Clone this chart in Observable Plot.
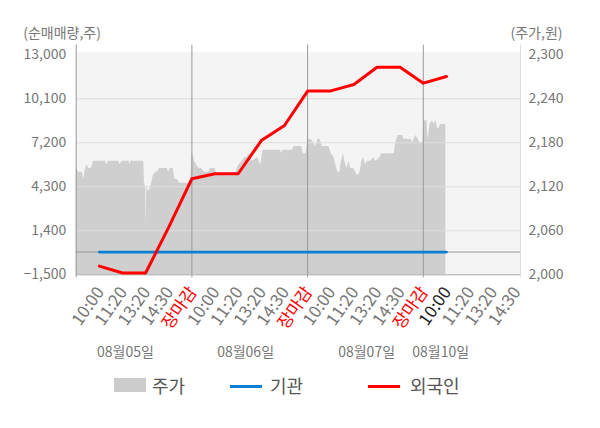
<!DOCTYPE html>
<html>
<head>
<meta charset="utf-8">
<script src="https://cdn.jsdelivr.net/npm/d3@7"></script>
<script src="https://cdn.jsdelivr.net/npm/@observablehq/plot@0.6"></script>
<style>
  body { margin: 0; background: #fff; font-family: "Noto Sans CJK KR", "Noto Sans", sans-serif; }
  #wrap { position: relative; width: 600px; height: 428px; overflow: hidden; }
  .lg { position: absolute; }
  .lgt { position: absolute; top: 373px; font-size: 18px; color: #555; line-height: 24px; }
</style>
</head>
<body>
<div id="wrap">
  <div id="chart"></div>
  <div class="lg" style="left:114px;top:378px;width:32px;height:14px;background:#cccccc"></div>
  <div class="lgt" style="left:152px">주가</div>
  <div class="lg" style="left:230px;top:385px;width:32px;height:3px;background:#0a80d2"></div>
  <div class="lgt" style="left:270px">기관</div>
  <div class="lg" style="left:368px;top:385px;width:32px;height:3px;background:#ff0000"></div>
  <div class="lgt" style="left:410px">외국인</div>
</div>
<script>
// ---- data ----
const leftTicks = [-1500, 1400, 4300, 7200, 10100, 13000];
const priceTicks = [2000, 2060, 2120, 2180, 2240, 2300];
const timeLabels = ["10:00", "11:20", "13:20", "14:30", "장마감"];
const dateLabels = ["08월05일", "08월06일", "08월07일", "08월10일"];
const dateLabelSlot = [2.13, 7.32, 12.55, 15.75];

// cumulative net buying (shares) at each time label
const foreignNet = [-930, -1380, -1380, 1640, 4830,
                    5160, 5160, 7350, 8340, 10610,
                    10620, 11040, 12180, 12180, 11130,
                    11570];
const institutionNet = [0, 0, 0, 0, 0, 0, 0, 0, 0, 0, 0, 0, 0, 0, 0, 0];

// intraday price: [minutes after 09:00, price in won]
const priceDay1 = [[0,2145],[9,2140],[20,2140],[26,2130],[29,2140],[35,2150],[43,2145],[51,2145],[59,2155],[65,2155],[71,2155],[99,2155],[102,2150],[110,2155],[144,2155],[147,2150],[155,2155],[178,2155],[181,2150],[184,2155],[228,2155],[230,2125],[234,2120],[236,2070],[238,2120],[243,2115],[248,2115],[254,2125],[260,2135],[268,2140],[273,2140],[282,2145],[307,2145],[312,2140],[316,2145],[327,2145],[329,2140],[333,2130],[341,2130],[350,2125],[355,2125],[386,2125]];
const priceDay2 = [[0,2165],[3,2165],[9,2155],[15,2150],[24,2145],[33,2145],[41,2140],[57,2140],[63,2145],[67,2145],[78,2145],[82,2140],[114,2135],[147,2135],[153,2145],[159,2150],[170,2155],[179,2160],[187,2160],[192,2165],[204,2155],[221,2160],[232,2150],[240,2170],[249,2170],[260,2170],[299,2170],[303,2165],[307,2170],[339,2170],[344,2175],[370,2175],[375,2165],[378,2165],[385,2165]];
const priceDay3 = [[0,2185],[11,2185],[20,2180],[27,2175],[35,2185],[42,2185],[50,2175],[58,2175],[72,2175],[80,2165],[89,2160],[98,2145],[103,2140],[109,2140],[114,2155],[121,2165],[126,2155],[132,2145],[140,2155],[145,2145],[155,2145],[162,2140],[168,2135],[177,2140],[183,2155],[188,2160],[196,2150],[202,2155],[213,2155],[222,2160],[230,2155],[244,2160],[250,2165],[292,2165],[297,2180],[305,2190],[320,2190],[325,2185],[348,2185],[354,2180],[359,2185],[365,2190],[373,2185],[379,2180],[389,2180]];
const priceDay4 = [[3,2210],[12,2210],[16,2185],[23,2205],[31,2210],[36,2205],[42,2210],[48,2200],[53,2200],[59,2205],[76,2205]];

// ---- derived tables ----
const toLeft = p => -1500 + (p - 2000) * (13000 - (-1500)) / (2300 - 2000);
const toPrice = v => 2000 + (v + 1500) * (2300 - 2000) / (13000 - (-1500));
const fmt = d3.format(",");

const priceRows = [];
[priceDay1, priceDay2, priceDay3, priceDay4].forEach((day, d) => {
  day.forEach(([m, p]) => priceRows.push({slot: 5 * d + m / 78, v: toLeft(p)}));
});

const netRows = foreignNet.map((f, i) => ({
  slot: 5 * Math.floor(i / 5) + (i % 5) + 1,
  foreign: f,
  inst: institutionNet[i]
}));

const tickRows = [];
dateLabels.forEach((dl, d) => {
  timeLabels.forEach((t, j) => {
    if (d === 3 && j === 4) return;
    let color = "#777777";
    if (t === "장마감") color = "#ff0000";
    if (d === 3 && j === 0) color = "#222222";
    tickRows.push({slot: 5 * d + j + 1, label: t, color});
  });
});
const dateRows = dateLabels.map((t, i) => ({slot: dateLabelSlot[i], label: t}));

const gridVals = leftTicks.slice(1, 5);
const fontFam = '"Noto Sans CJK KR", "Noto Sans", sans-serif';

const chart = Plot.plot({
  width: 600,
  height: 365,
  marginLeft: 75.7,
  marginRight: 80,
  marginTop: 51.7,
  marginBottom: 90.7,
  style: {fontFamily: fontFam, fontSize: "14px", background: "transparent", overflow: "visible"},
  x: {domain: [0, 19.2], axis: null},
  y: {domain: [-1500, 13171], axis: null},
  marks: [
    Plot.frame({fill: "#f4f4f4", stroke: null}),
    Plot.areaY(priceRows, {x: "slot", y1: () => -1500, y2: "v", fill: "#cfcfcf", curve: "linear"}),
    Plot.ruleY(gridVals, {stroke: "#dedede", strokeWidth: 1}),
    Plot.ruleY([0], {stroke: "#999999", strokeWidth: 1}),
    Plot.ruleX([5, 10, 15], {stroke: "#999999", strokeWidth: 1, insetTop: -7, insetBottom: -3}),
    Plot.ruleX([0], {stroke: "#999999", strokeWidth: 1, insetTop: -7, insetBottom: -3}),
    Plot.ruleX([19.2], {stroke: "#dddddd", strokeWidth: 1, insetTop: -7, insetBottom: -3}),
    Plot.ruleY([-1500], {stroke: "#aaaaaa", strokeWidth: 1}),
    Plot.axisY({ticks: leftTicks, tickFormat: fmt, tickSize: 0, tickPadding: 10, fontSize: 14, color: "#777777", label: null}),
    Plot.axisY({anchor: "right", ticks: leftTicks, tickFormat: v => fmt(Math.round(toPrice(v))), tickSize: 0, tickPadding: 8, fontSize: 14, color: "#777777", label: null}),
    Plot.lineY(netRows, {x: "slot", y: "inst", stroke: "#0a80d2", strokeWidth: 2.7}),
    Plot.lineY(netRows, {x: "slot", y: "foreign", stroke: "#ff0000", strokeWidth: 3}),
    Plot.text(tickRows, {x: "slot", text: "label", fill: "color", frameAnchor: "bottom", rotate: -55, textAnchor: "end", lineAnchor: "middle", dx: 1, dy: 14, fontSize: 17}),
    Plot.text(dateRows, {x: "slot", text: "label", frameAnchor: "bottom", dy: 78, fill: "#777777", fontSize: 14, lineAnchor: "middle"}),
    Plot.text(["(순매매량,주)"], {frameAnchor: "top-left", dx: -53, dy: -18.7, textAnchor: "start", lineAnchor: "middle", fill: "#777777", fontSize: 14}),
    Plot.text(["(주가,원)"], {frameAnchor: "top-right", dx: 42, dy: -18.7, textAnchor: "end", lineAnchor: "middle", fill: "#777777", fontSize: 14})
  ]
});
document.getElementById("chart").appendChild(chart);
</script>
</body>
</html>
